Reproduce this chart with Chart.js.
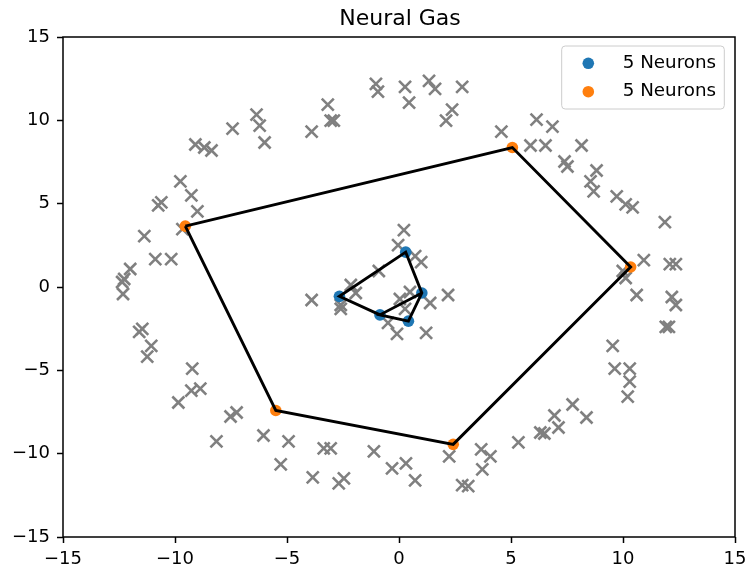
<!DOCTYPE html>
<html>
<head>
<meta charset="utf-8">
<title>Neural Gas</title>
<script src="https://cdn.jsdelivr.net/npm/chart.js@4/dist/chart.umd.min.js"></script>
<style>
  html, body { margin: 0; padding: 0; background: #ffffff; }
  #wrap { width: 749px; height: 574px; }
</style>
</head>
<body>
<div id="wrap"><canvas id="c" width="749" height="574"></canvas></div>
<script>
// Input samples (ring around the origin plus a small central cluster)
const sampleX = [
  -6.36, -6.22, -6.00, -7.43, -3.90, -3.18, -3.05, -2.91, -1.03, -0.94,
   0.27,  0.45,  1.34,  1.61,  2.82,  2.37,  2.10,  4.57,  6.14,  6.85,
   5.87,  6.54,  8.15,  7.39,  7.52,  8.82,  8.55,  8.69,  9.72, 10.12,
  10.43, 11.87, 10.93, 12.09, 12.36,  9.99, 10.12, 10.61, 12.18, 12.36,
  11.91, 12.05,  9.54,  9.63, 10.30, 10.30, 10.21,  7.75,  8.37,  6.94,
   7.12,  6.31,  6.49,  5.33,  3.67,  4.08,  3.72,  2.82,  3.09,  2.24,
   0.72,  0.31, -0.31, -1.12, -2.46, -2.69, -3.05, -3.36, -3.85, -4.93,
  -5.28, -6.05, -8.15, -7.25, -7.52, -9.85, -9.27, -8.87, -9.23, -11.24,
 -11.06, -11.60, -11.46, -12.32, -12.36, -12.27, -12.00, -10.88, -10.17, -9.67,
 -11.37, -9.00, -10.75, -10.61, -9.27, -9.76, -9.09, -8.69, -8.37,
   0.22, -0.04,  0.72,  0.99, -0.90, -2.15, -1.93, -3.90, -2.60, -2.60,
   0.49,  0.04,  0.27,  1.39,  2.19, -0.49, -0.09,  1.21
];
const sampleY = [
  10.34,  9.68,  8.67,  9.50,  9.32, 10.94,  9.98,  9.98, 12.19, 11.72,
  12.01, 11.06, 12.37, 11.89, 12.01, 10.64,  9.98,  9.32, 10.04,  9.62,
   8.49,  8.49,  8.49,  7.53,  7.23,  6.99,  6.34,  5.74,  5.44,  4.96,
   4.78,  3.89,  1.61,  1.37,  1.37,  0.96,  0.54, -0.48, -0.60, -1.08,
  -2.39, -2.39, -3.53, -4.90, -4.90, -5.68, -6.58, -7.05, -7.83, -7.71,
  -8.43, -8.73, -8.79, -9.32, -9.74, -10.16, -10.94, -11.89, -11.95, -10.16,
 -11.60, -10.58, -10.88, -9.86, -11.48, -11.78, -9.68, -9.68, -11.42, -9.26,
 -10.64, -8.91, -9.26, -7.53, -7.77, -6.93, -6.22, -6.10, -4.90, -4.18,
  -3.53, -2.69, -2.51, -0.42,  0.30,  0.48,  1.08,  1.67,  1.67,  3.47,
   3.05,  4.54,  4.90,  5.08,  5.50,  6.34,  8.55,  8.37,  8.19,
   3.41,  2.51,  1.85,  1.49,  0.96,  0.12, -0.36, -0.78, -1.08, -1.31,
  -0.30, -0.72, -1.31, -0.96, -0.48, -2.15, -2.81, -2.75
];

// Neuron positions of the two gases
const innerX = [0.30, 1.02, 0.42, -0.85, -2.66];
const innerY = [2.09, -0.36, -2.05, -1.67, -0.56];
const outerX = [-9.54, 5.06, 10.34, 2.42, -5.50];
const outerY = [3.65, 8.37, 1.20, -9.44, -7.41];

// Edges between neurons, as paths through neuron indices
const innerPath = [3, 4, 0, 1, 2, 3, 1];
const outerPath = [0, 1, 2, 3, 4, 0];

const seriesLabels = ['5 Neurons', '5 Neurons'];
const tickValues = [-15, -10, -5, 0, 5, 10, 15];

const FONT = 'DejaVu Sans';
const toPoints = (xs, ys) => xs.map((x, i) => ({ x: x, y: ys[i] }));
const alongPath = (xs, ys, path) => path.map(i => ({ x: xs[i], y: ys[i] }));
const minusSign = v => String(v).replace('-', '\u2212');

const titlePlugin = {
  id: 'plotTitle',
  afterDraw(chart) {
    const { ctx, chartArea } = chart;
    ctx.save();
    ctx.fillStyle = '#000';
    ctx.font = '22px "' + FONT + '"';
    ctx.textAlign = 'center';
    ctx.textBaseline = 'middle';
    ctx.fillText('Neural Gas', (chartArea.left + chartArea.right) / 2 + 1, 19);
    ctx.restore();
  }
};

const framePlugin = {
  id: 'frame',
  afterDatasetsDraw(chart) {
    const { ctx, chartArea: a } = chart;
    ctx.save();
    ctx.strokeStyle = '#000';
    ctx.lineWidth = 1.5;
    ctx.strokeRect(a.left, a.top, a.right - a.left, a.bottom - a.top);
    ctx.restore();
  }
};

const legendPlugin = {
  id: 'boxLegend',
  afterDraw(chart) {
    const { ctx, chartArea: a } = chart;
    const entries = chart.data.datasets.filter(d => d.inLegend);
    const w = 162.6, h = 63;
    const x0 = a.right - 10.7 - w, y0 = a.top + 9;
    ctx.save();
    ctx.beginPath();
    ctx.roundRect(x0, y0, w, h, 3.5);
    ctx.fillStyle = 'rgba(255,255,255,0.8)';
    ctx.fill();
    ctx.strokeStyle = '#cccccc';
    ctx.lineWidth = 1;
    ctx.stroke();
    ctx.font = '18.3px "' + FONT + '"';
    ctx.textAlign = 'left';
    ctx.textBaseline = 'middle';
    entries.forEach((d, i) => {
      const cy = y0 + 17.3 + i * 28.4;
      ctx.beginPath();
      ctx.arc(x0 + 26.6, cy, 5.8, 0, Math.PI * 2);
      ctx.fillStyle = d.backgroundColor;
      ctx.fill();
      ctx.fillStyle = '#000';
      ctx.fillText(d.label, x0 + 61, cy);
    });
    ctx.restore();
  }
};

const axisCommon = {
  type: 'linear',
  min: -15,
  max: 15,
  afterBuildTicks: scale => { scale.ticks = tickValues.map(v => ({ value: v })); },
  ticks: {
    color: '#000',
    font: { family: FONT, size: 18 },
    callback: v => minusSign(v)
  },
  grid: {
    display: true,
    drawOnChartArea: false,
    drawTicks: true,
    tickLength: 6,
    tickWidth: 1.5,
    tickColor: '#000'
  },
  border: { display: false }
};

new Chart(document.getElementById('c'), {
  type: 'scatter',
  data: {
    datasets: [
      {
        label: 'edges-outer',
        data: alongPath(outerX, outerY, outerPath),
        showLine: true,
        borderColor: '#000',
        borderWidth: 2.9,
        pointRadius: 0,
        tension: 0,
        order: 0
      },
      {
        label: 'edges-inner',
        data: alongPath(innerX, innerY, innerPath),
        showLine: true,
        borderColor: '#000',
        borderWidth: 2.9,
        pointRadius: 0,
        tension: 0,
        order: 0
      },
      {
        label: seriesLabels[0],
        inLegend: true,
        data: toPoints(innerX, innerY),
        pointStyle: 'circle',
        pointRadius: 5.8,
        backgroundColor: '#1f77b4',
        borderWidth: 0,
        order: 1
      },
      {
        label: seriesLabels[1],
        inLegend: true,
        data: toPoints(outerX, outerY),
        pointStyle: 'circle',
        pointRadius: 5.8,
        backgroundColor: '#ff7f0e',
        borderWidth: 0,
        order: 2
      },
      {
        label: 'samples',
        data: toPoints(sampleX, sampleY),
        pointStyle: 'crossRot',
        pointRadius: 8.5,
        borderWidth: 2.6,
        borderColor: '#808080',
        backgroundColor: '#808080',
        order: 3
      }
    ]
  },
  options: {
    responsive: false,
    devicePixelRatio: 1,
    animation: false,
    events: [],
    layout: { padding: { top: 37, right: 14, left: 0, bottom: 0 } },
    plugins: {
      legend: { display: false },
      title: { display: false },
      tooltip: { enabled: false }
    },
    scales: {
      x: Object.assign({}, axisCommon, {
        position: 'bottom',
        ticks: Object.assign({}, axisCommon.ticks, { padding: 6, maxRotation: 0 }),
        afterFit: s => { s.height = 37; s.paddingLeft = 0; s.paddingRight = 0; }
      }),
      y: Object.assign({}, axisCommon, {
        position: 'left',
        ticks: Object.assign({}, axisCommon.ticks, { padding: 7 }),
        afterFit: s => { s.width = 63; s.paddingTop = 0; s.paddingBottom = 0; }
      })
    }
  },
  plugins: [framePlugin, legendPlugin, titlePlugin]
});
</script>
</body>
</html>
